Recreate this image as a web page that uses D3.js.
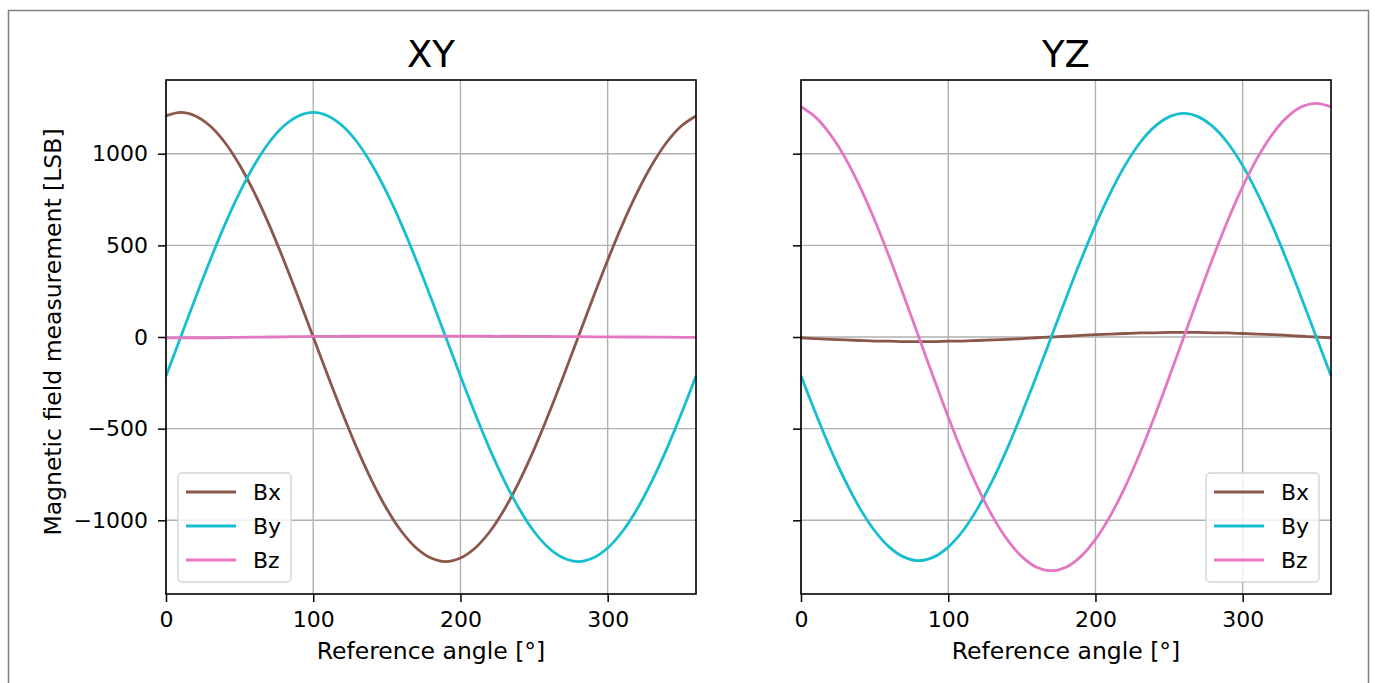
<!DOCTYPE html>
<html>
<head>
<meta charset="utf-8">
<script src="https://cdn.jsdelivr.net/npm/d3@7"></script>
<style>
  body { margin: 0; background: #fff; }
  svg { display: block; font-family: "DejaVu Sans", sans-serif; }
</style>
</head>
<body>
<svg id="chart" width="1375" height="683"></svg>
<script>
// angles, 10 degree steps
const angles = [0,10,20,30,40,50,60,70,80,90,100,110,120,130,140,150,160,170,180,
  190,200,210,220,230,240,250,260,270,280,290,300,310,320,330,340,350,360];

// XY rotation
const xyBx = [1206,1225,1206,1151,1061,938,787,613,419,213,0,-213,-419,-613,-787,-938,-1061,-1151,-1206,
  -1225,-1206,-1151,-1061,-938,-787,-613,-419,-213,0,213,419,613,787,938,1061,1151,1206];
const xyBy = [-213,0,213,419,613,787,938,1061,1151,1206,1225,1206,1151,1061,938,787,613,419,213,
  0,-213,-419,-613,-787,-938,-1061,-1151,-1206,-1225,-1206,-1151,-1061,-938,-787,-613,-419,-213];
const xyBz = [-5,-5,-4,-4,-3,-2,-1,0,1,2,3,3,4,4,5,5,5,5,5,
  5,5,5,4,4,4,3,3,2,2,1,1,0,0,-1,-1,-2,-2];

// YZ rotation
const yzBx = [-4,-9,-13,-16,-19,-22,-23,-25,-25,-25,-23,-22,-19,-16,-13,-9,-4,0,4,
  9,13,16,19,22,23,25,25,25,23,22,19,16,13,9,4,0,-4];
const yzBy = [-212,-417,-610,-784,-935,-1057,-1146,-1201,-1220,-1201,-1146,-1057,-935,-784,-610,-417,-212,0,212,
  417,610,784,935,1057,1146,1201,1220,1201,1146,1057,935,784,610,417,212,0,-212];
const yzBz = [1256,1198,1104,977,820,638,436,221,0,-221,-436,-638,-820,-977,-1104,-1198,-1256,-1275,-1256,
  -1198,-1104,-977,-820,-638,-436,-221,0,221,436,638,820,977,1104,1198,1256,1275,1256];

const seriesNames = ["Bx", "By", "Bz"];
const colors = ["#8c564b", "#17becf", "#e377c2"];
const xTicks = [0, 100, 200, 300];
const yTicks = [-1000, -500, 0, 500, 1000];

const panels = [
  { title: "XY", left: 166, series: [xyBx, xyBy, xyBz], legend: "left", yLabels: true },
  { title: "YZ", left: 801, series: [yzBx, yzBy, yzBz], legend: "right", yLabels: false }
];

const svg = d3.select("#chart");
const plotW = 530, plotTop = 80, plotBottom = 594;
const fontSize = "22px", labelSize = "23.5px";

// outer frame
svg.append("rect")
  .attr("x", 8.5).attr("y", 10.5)
  .attr("width", 1360).attr("height", 700)
  .attr("fill", "none").attr("stroke", "#808080").attr("stroke-width", 1.5);

const y = d3.scaleLinear().domain([-1402, 1402]).range([plotBottom, plotTop]);
const fmt = d => d < 0 ? "\u2212" + Math.abs(d) : String(d);

panels.forEach(p => {
  const x = d3.scaleLinear().domain([0, 360]).range([p.left, p.left + plotW]);
  const g = svg.append("g");

  // grid
  g.append("g").selectAll("line").data(xTicks).join("line")
    .attr("x1", d => x(d)).attr("x2", d => x(d))
    .attr("y1", plotTop).attr("y2", plotBottom)
    .attr("stroke", "#b0b0b0").attr("stroke-width", 1.4);
  g.append("g").selectAll("line").data(yTicks).join("line")
    .attr("x1", p.left).attr("x2", p.left + plotW)
    .attr("y1", d => y(d)).attr("y2", d => y(d))
    .attr("stroke", "#b0b0b0").attr("stroke-width", 1.4);

  // curves
  const line = d3.line()
    .x((d, i) => x(angles[i]))
    .y(d => y(d))
    .curve(d3.curveCatmullRom);
  p.series.forEach((s, i) => {
    g.append("path")
      .attr("d", line(s))
      .attr("fill", "none")
      .attr("stroke", colors[i])
      .attr("stroke-width", 2.8);
  });

  // axes
  const xAxis = d3.axisBottom(x).tickValues(xTicks).tickSize(8).tickPadding(9);
  const gx = g.append("g").attr("transform", `translate(0,${plotBottom})`).call(xAxis);
  const yAxis = d3.axisLeft(y).tickValues(yTicks).tickSize(8).tickPadding(10)
    .tickFormat(p.yLabels ? fmt : "");
  const gy = g.append("g").attr("transform", `translate(${p.left},0)`).call(yAxis);
  [gx, gy].forEach(a => {
    a.select(".domain").remove();
    a.selectAll("line").attr("stroke", "#000").attr("stroke-width", 1.5);
    a.selectAll("text").attr("fill", "#000")
      .style("font-family", "DejaVu Sans").style("font-size", fontSize);
  });

  // spines
  g.append("rect")
    .attr("x", p.left).attr("y", plotTop)
    .attr("width", plotW).attr("height", plotBottom - plotTop)
    .attr("fill", "none").attr("stroke", "#000").attr("stroke-width", 1.6);

  // title
  g.append("text")
    .attr("x", p.left + plotW / 2).attr("y", 67)
    .attr("text-anchor", "middle")
    .style("font-size", "37px")
    .text(p.title);

  // x label
  g.append("text")
    .attr("x", p.left + plotW / 2).attr("y", 659)
    .attr("text-anchor", "middle")
    .style("font-size", labelSize)
    .text("Reference angle [°]");

  // legend
  const lx = p.legend === "left" ? p.left + 12 : p.left + plotW - 125;
  const lg = g.append("g").attr("transform", `translate(${lx},473)`);
  lg.append("rect")
    .attr("width", 113).attr("height", 109).attr("rx", 4)
    .attr("fill", "#fff").attr("fill-opacity", 0.8)
    .attr("stroke", "#d4d4d4").attr("stroke-width", 1.4);
  seriesNames.forEach((n, i) => {
    const cy = 19 + i * 34;
    lg.append("line")
      .attr("x1", 8).attr("x2", 58).attr("y1", cy).attr("y2", cy)
      .attr("stroke", colors[i]).attr("stroke-width", 2.8);
    lg.append("text")
      .attr("x", 75).attr("y", cy + 8)
      .style("font-size", fontSize)
      .text(n);
  });
});

// y label
svg.append("text")
  .attr("transform", "translate(61,332) rotate(-90)")
  .attr("text-anchor", "middle")
  .style("font-size", labelSize)
  .text("Magnetic field measurement [LSB]");
</script>
</body>
</html>
